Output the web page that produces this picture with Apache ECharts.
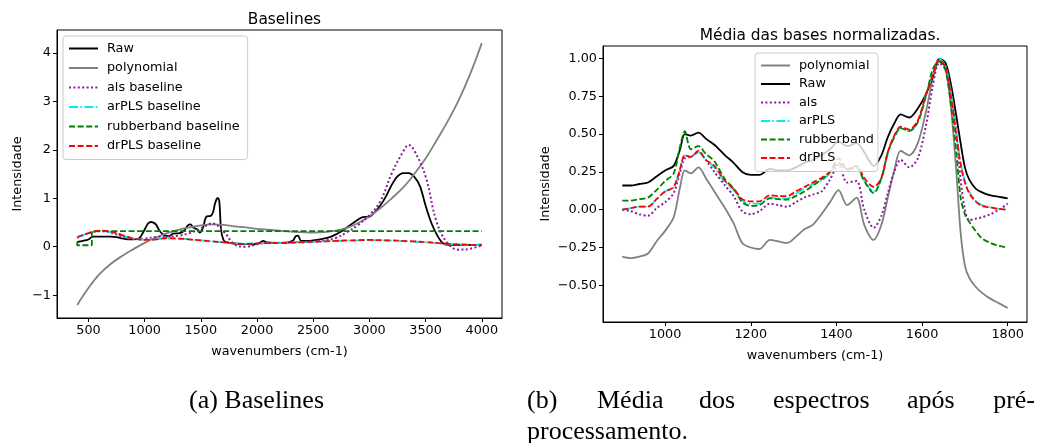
<!DOCTYPE html>
<html>
<head>
<meta charset="utf-8">
<script src="https://cdn.jsdelivr.net/npm/echarts@6/dist/echarts.min.js"></script>
<style>
  html, body { margin: 0; padding: 0; background: #fff; }
  #main { width: 1037px; height: 443px; }
</style>
</head>
<body>
<div id="main"></div>
<script>
// (a) Baselines - raw spectrum and fitted baselines
var wnRaw = [400,450,500,540,600,700,750,800,850,900,950,985,1030,1060,1075,1100,1135,1175,1220,1250,
  1310,1350,1385,1410,1430,1465,1490,1520,1548,1590,1610,1625,1640,1652,1665,1680,1700,1720,1780,1850,
  1950,2000,2030,2055,2085,2150,2250,2320,2345,2365,2392,2450,2580,2660,2760,2880,2940,3000,3050,3100,
  3150,3200,3250,3300,3350,3400,3450,3500,3550,3600,3650,3700,3800,3900,4000];
var rawA = [0.10,0.12,0.15,0.21,0.21,0.21,0.20,0.17,0.15,0.15,0.17,0.29,0.48,0.51,0.50,0.46,0.32,0.24,0.22,0.27,
  0.28,0.33,0.44,0.46,0.40,0.36,0.29,0.40,0.62,0.64,0.72,0.88,0.98,1.00,0.92,0.35,0.15,0.10,0.07,0.06,
  0.05,0.06,0.09,0.12,0.09,0.08,0.08,0.13,0.22,0.23,0.12,0.12,0.16,0.21,0.33,0.53,0.61,0.62,0.72,0.86,
  1.05,1.28,1.45,1.52,1.52,1.44,1.25,0.85,0.50,0.25,0.08,0.04,0.04,0.04,0.045];

var wnBase = [400,500,600,700,800,900,1000,1100,1200,1300,1400,1500,1600,1700,1800,1900,2000,2100,2200,
  2300,2400,2500,2600,2700,2800,2900,3000,3100,3200,3300,3350,3400,3500,3600,3700,3800,3900,4000];
var polyA = [-1.20,-0.85,-0.56,-0.35,-0.19,-0.05,0.08,0.19,0.28,0.35,0.40,0.44,0.46,0.45,0.42,0.40,0.37,0.35,0.33,
  0.31,0.30,0.29,0.30,0.33,0.39,0.49,0.63,0.80,1.00,1.22,1.35,1.50,1.82,2.20,2.60,3.05,3.58,4.20];
var alsA = [0.18,0.28,0.32,0.29,0.21,0.16,0.17,0.20,0.21,0.23,0.28,0.38,0.48,0.32,0.05,0.00,0.05,0.08,0.08,
  0.09,0.10,0.11,0.13,0.18,0.30,0.45,0.65,0.95,1.52,1.96,2.10,1.98,1.45,0.50,0.06,-0.06,-0.04,0.03];
var arA = [0.19,0.28,0.32,0.30,0.23,0.17,0.14,0.15,0.17,0.17,0.15,0.13,0.11,0.09,0.075,0.065,0.07,0.075,0.08,
  0.085,0.09,0.10,0.11,0.12,0.125,0.13,0.135,0.13,0.125,0.115,0.11,0.105,0.09,0.075,0.06,0.05,0.04,0.035];
var drA = [0.20,0.28,0.33,0.31,0.24,0.17,0.14,0.15,0.18,0.17,0.15,0.13,0.11,0.09,0.07,0.06,0.07,0.075,0.08,
  0.085,0.09,0.10,0.11,0.12,0.13,0.135,0.14,0.135,0.13,0.12,0.115,0.11,0.095,0.08,0.06,0.05,0.04,0.03];
var wnRub = [400,400,530,530,4000];
var rubA = [0.10,0.03,0.03,0.32,0.32];

// (b) normalised mean spectra
var wnB = [900,920,940,960,980,1000,1020,1035,1046,1060,1078,1095,1115,1140,1160,1180,1200,1220,1245,1265,
  1285,1305,1325,1345,1365,1385,1405,1425,1447,1465,1487,1505,1520,1535,1550,1570,1590,1610,1625,1640,
  1655,1668,1680,1690,1700,1710,1725,1740,1760,1780,1800];
var polyB = [-0.31,-0.32,-0.31,-0.29,-0.21,-0.14,-0.05,0.15,0.26,0.24,0.28,0.21,0.12,0.01,-0.09,-0.22,-0.25,-0.26,-0.20,-0.21,
  -0.22,-0.18,-0.13,-0.10,-0.03,0.05,0.13,0.03,0.08,-0.10,-0.20,-0.10,0.08,0.26,0.39,0.36,0.44,0.66,0.87,0.99,
  0.93,0.66,0.25,-0.15,-0.37,-0.45,-0.51,-0.55,-0.59,-0.62,-0.65];
var rawB = [0.16,0.16,0.17,0.18,0.22,0.26,0.29,0.40,0.50,0.49,0.51,0.47,0.43,0.36,0.31,0.25,0.23,0.23,0.27,0.26,
  0.26,0.28,0.31,0.33,0.36,0.40,0.45,0.42,0.44,0.38,0.29,0.36,0.48,0.57,0.63,0.61,0.67,0.77,0.88,1.00,
  0.97,0.82,0.62,0.44,0.28,0.20,0.14,0.115,0.095,0.085,0.075];
var alsB = [0.00,-0.01,-0.03,-0.04,0.01,0.05,0.11,0.25,0.34,0.35,0.38,0.33,0.25,0.16,0.09,-0.01,-0.03,-0.01,0.04,0.03,
  0.02,0.05,0.08,0.10,0.12,0.20,0.30,0.18,0.19,0.00,-0.12,-0.04,0.11,0.25,0.33,0.28,0.34,0.57,0.82,0.97,
  0.93,0.77,0.52,0.20,0.00,-0.07,-0.06,-0.05,-0.03,0.00,0.04];
var arB = [0.00,0.01,0.02,0.02,0.07,0.12,0.15,0.27,0.36,0.35,0.38,0.33,0.28,0.18,0.13,0.06,0.04,0.04,0.08,0.075,
  0.075,0.105,0.14,0.17,0.19,0.24,0.30,0.26,0.28,0.19,0.12,0.20,0.37,0.48,0.54,0.52,0.58,0.77,0.89,1.00,
  0.95,0.76,0.51,0.31,0.19,0.12,0.06,0.03,0.015,0.005,0.00];
var rubB = [0.06,0.06,0.07,0.08,0.13,0.19,0.24,0.42,0.52,0.40,0.42,0.37,0.32,0.20,0.14,0.05,0.025,0.03,0.075,0.07,
  0.066,0.09,0.12,0.16,0.20,0.25,0.34,0.27,0.28,0.19,0.11,0.21,0.38,0.48,0.54,0.52,0.58,0.76,0.93,0.98,
  0.92,0.68,0.38,0.08,-0.03,-0.08,-0.14,-0.19,-0.22,-0.24,-0.25];
var drB = [0.00,0.01,0.02,0.02,0.07,0.12,0.15,0.27,0.36,0.35,0.39,0.33,0.29,0.19,0.14,0.07,0.055,0.055,0.095,0.09,
  0.09,0.12,0.15,0.18,0.21,0.25,0.31,0.27,0.29,0.21,0.15,0.21,0.38,0.49,0.55,0.53,0.59,0.77,0.89,0.995,
  0.94,0.74,0.49,0.30,0.18,0.11,0.055,0.025,0.015,0.005,0.00];

var ticksXA = [500,1000,1500,2000,2500,3000,3500,4000];
var ticksYA = [-1,0,1,2,3,4];
var ticksXB = [1000,1200,1400,1600,1800];
var ticksYB = [-0.5,-0.25,0,0.25,0.5,0.75,1];

var legendA = ['Raw','polynomial','als baseline','arPLS baseline','rubberband baseline','drPLS baseline'];
var legendB = ['polynomial','Raw','als','arPLS','rubberband','drPLS'];

function pairs(xs, ys) {
  return xs.map(function (x, i) { return [x, ys[i]]; });
}
function minus(s) { return String(s).replace('-', '\u2212'); }

var FONT = 'DejaVu Sans';
var C = {
  raw: '#000000', poly: '#808080', als: '#8b1a9e', ar: '#00eeee', rub: '#008000', dr: '#ff0000'
};
var DOT = [2, 2.4], DASH = [6, 2.6], DASHDOT = [9, 2.4, 1.6, 2.4];

function xAxisCfg(idx, min, max, ticks) {
  return {
    type: 'value', gridIndex: idx, min: min, max: max,
    name: 'wavenumbers (cm-1)', nameLocation: 'middle', nameGap: 27,
    nameTextStyle: { fontFamily: FONT, fontSize: 12.8, color: '#000' },
    axisLine: { show: true, onZero: false, lineStyle: { color: '#000', width: 1 } },
    axisTick: { show: true, length: 4, customValues: ticks, lineStyle: { color: '#000' } },
    axisLabel: { customValues: ticks, margin: 6, fontFamily: FONT, fontSize: 12.8, color: '#000',
      formatter: function (v) { return String(v); } },
    splitLine: { show: false }
  };
}
function yAxisCfg(idx, min, max, ticks, fmt, gap) {
  return {
    type: 'value', gridIndex: idx, min: min, max: max,
    name: 'Intensidade', nameLocation: 'middle', nameGap: gap, nameRotate: 90,
    nameTextStyle: { fontFamily: FONT, fontSize: 12.8, color: '#000' },
    axisLine: { show: true, onZero: false, lineStyle: { color: '#000', width: 1 } },
    axisTick: { show: true, length: 4, customValues: ticks, lineStyle: { color: '#000' } },
    axisLabel: { customValues: ticks, margin: 6, fontFamily: FONT, fontSize: 12.8, color: '#000', formatter: fmt },
    splitLine: { show: false }
  };
}
function line(name, xi, xs, ys, color, type, width, smooth) {
  return {
    name: name, type: 'line', xAxisIndex: xi, yAxisIndex: xi,
    data: pairs(xs, ys), symbol: 'none', smooth: smooth, animation: false,
    lineStyle: { color: color, width: width, type: type },
    itemStyle: { color: color }
  };
}
function legendCfg(names, left, top, gap, padRight) {
  return {
    data: names, orient: 'vertical', left: left, top: top, selectedMode: false,
    itemWidth: 29, itemHeight: 10, itemGap: gap,
    padding: [6, padRight, 7, 5],
    itemStyle: { opacity: 0 },
    backgroundColor: 'rgba(255,255,255,0.8)', borderColor: '#cccccc', borderWidth: 1, borderRadius: 3,
    textStyle: { fontFamily: FONT, fontSize: 12.8, color: '#000', padding: [0, 0, 0, 4] }
  };
}

var chart = echarts.init(document.getElementById('main'), null, { renderer: 'canvas' });

var capFont = 'Liberation Serif';
var option = {
  backgroundColor: '#fff',
  animation: false,
  title: [
    { text: 'Baselines', left: 279.5, top: 7, textAlign: 'center',
      textStyle: { fontFamily: FONT, fontSize: 15.4, fontWeight: 'normal', color: '#000' } },
    { text: 'Média das bases normalizadas.', left: 815, top: 23, textAlign: 'center',
      textStyle: { fontFamily: FONT, fontSize: 15.4, fontWeight: 'normal', color: '#000' } }
  ],
  grid: [
    { left: 57, top: 30, width: 445, height: 288, show: true, borderColor: '#000', borderWidth: 1, backgroundColor: 'transparent' },
    { left: 603, top: 46, width: 424, height: 276, show: true, borderColor: '#000', borderWidth: 1, backgroundColor: 'transparent' }
  ],
  legend: [legendCfg(legendA, 63, 36, 6.5, 8), legendCfg(legendB, 755, 53, 5.5, 4)],
  xAxis: [xAxisCfg(0, 220, 4180, ticksXA), xAxisCfg(1, 855, 1845, ticksXB)],
  yAxis: [
    yAxisCfg(0, -1.47, 4.47, ticksYA, function (v) { return minus(v); }, 33),
    yAxisCfg(1, -0.743, 1.083, ticksYB, function (v) { return minus(v.toFixed(2)); }, 51)
  ],
  series: [
    line('Raw', 0, wnRaw, rawA, C.raw, 'solid', 1.8, 0.3),
    line('polynomial', 0, wnBase, polyA, C.poly, 'solid', 1.8, 0.4),
    line('als baseline', 0, wnBase, alsA, C.als, DOT, 2, 0.4),
    line('arPLS baseline', 0, wnBase, arA, C.ar, DASHDOT, 1.8, 0.4),
    line('rubberband baseline', 0, wnRub, rubA, C.rub, DASH, 1.8, false),
    line('drPLS baseline', 0, wnBase, drA, C.dr, DASH, 1.8, 0.4),

    line('polynomial', 1, wnB, polyB, C.poly, 'solid', 1.8, 0.3),
    line('Raw', 1, wnB, rawB, C.raw, 'solid', 1.8, 0.3),
    line('als', 1, wnB, alsB, C.als, DOT, 2, 0.3),
    line('arPLS', 1, wnB, arB, C.ar, DASHDOT, 1.8, 0.3),
    line('rubberband', 1, wnB, rubB, C.rub, DASH, 1.8, 0.3),
    line('drPLS', 1, wnB, drB, C.dr, DASH, 1.8, 0.3)
  ],
  graphic: [
    { type: 'text', x: 189, y: 401, style: { text: '(a) Baselines', fontFamily: capFont, fontSize: 26, fill: '#000', align: 'left', verticalAlign: 'middle' } },
    { type: 'text', x: 527, y: 401, style: { text: '(b)', fontFamily: capFont, fontSize: 26, fill: '#000', align: 'left', verticalAlign: 'middle' } },
    { type: 'text', x: 597, y: 401, style: { text: 'Média', fontFamily: capFont, fontSize: 26, fill: '#000', align: 'left', verticalAlign: 'middle' } },
    { type: 'text', x: 699, y: 401, style: { text: 'dos', fontFamily: capFont, fontSize: 26, fill: '#000', align: 'left', verticalAlign: 'middle' } },
    { type: 'text', x: 773, y: 401, style: { text: 'espectros', fontFamily: capFont, fontSize: 26, fill: '#000', align: 'left', verticalAlign: 'middle' } },
    { type: 'text', x: 907, y: 401, style: { text: 'após', fontFamily: capFont, fontSize: 26, fill: '#000', align: 'left', verticalAlign: 'middle' } },
    { type: 'text', x: 1035, y: 401, style: { text: 'pré-', fontFamily: capFont, fontSize: 26, fill: '#000', align: 'right', verticalAlign: 'middle' } },
    { type: 'text', x: 527, y: 432, style: { text: 'processamento.', fontFamily: capFont, fontSize: 26, fill: '#000', align: 'left', verticalAlign: 'middle' } }
  ]
};
chart.setOption(option);
</script>
</body>
</html>
